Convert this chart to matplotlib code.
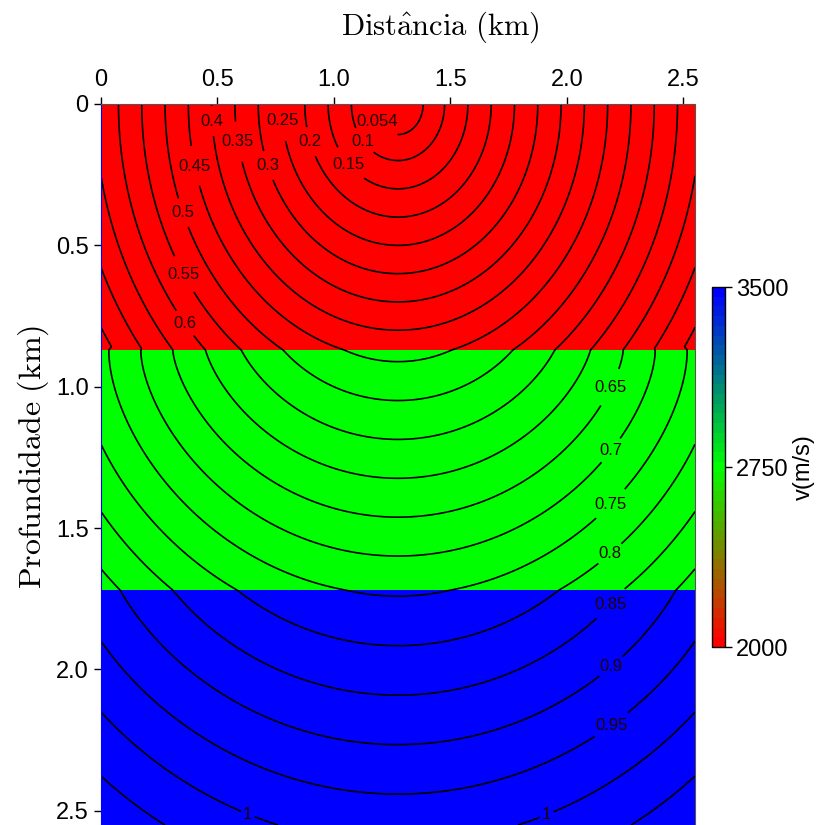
import numpy as np
import matplotlib
matplotlib.use("Agg")
from matplotlib import pyplot as plt
from matplotlib.colors import LinearSegmentedColormap

plt.rcParams['mathtext.fontset'] = 'cm'
tick_font = ['Liberation Sans Narrow', 'Liberation Sans', 'DejaVu Sans']

# camadas do modelo (km, km/s)
layer_tops = [0.0, 0.87, 1.72]
layer_vel = [2.0, 2.75, 3.5]
src_x = 1.275
model_size = 2.55

# niveis das isocronas (s)
levels = [0.054, 0.1, 0.15, 0.2, 0.25, 0.3, 0.35, 0.4, 0.45, 0.5, 0.55, 0.6,
          0.65, 0.7, 0.75, 0.8, 0.85, 0.9, 0.95, 1.0, 1.05, 1.1, 1.15, 1.2]

# onde ficam os rotulos das curvas (x, z)
label_pos = [(1.186, 0.06), (1.121, 0.134), (1.057, 0.219), (0.898, 0.134),
             (0.777, 0.06), (0.713, 0.219), (0.584, 0.134), (0.481, 0.06),
             (0.404, 0.219), (0.352, 0.385), (0.352, 0.604), (0.352, 0.78),
             (2.195, 1.006), (2.195, 1.229), (2.195, 1.42), (2.195, 1.6),
             (2.195, 1.773), (2.195, 1.995), (2.195, 2.2),
             (0.627, 2.518), (1.916, 2.518)]

vel_ticks = [2000, 2750, 3500]
xticks = [0, 0.5, 1.0, 1.5, 2.0, 2.5]
xtick_labels = ['0', '0.5', '1.0', '1.5', '2.0', '2.5']


def first_arrival(X, Z):
    v = np.array(layer_vel)
    tops = list(layer_tops)
    bots = tops[1:] + [np.inf]
    h = [b - t for t, b in zip(tops, bots)]
    n = len(v)
    T = np.full(X.shape, np.inf)
    for k in range(n):
        m = (Z >= tops[k]) & (Z < bots[k])
        xk = X[m]
        zk = Z[m]
        # onda direta (Snell)
        d = [np.full(xk.shape, h[i]) for i in range(k)] + [zk - tops[k]]
        if k == 0:
            t = np.hypot(xk, zk) / v[0]
        else:
            lo = np.zeros(xk.shape)
            hi = np.full(xk.shape, (1 - 1e-12) / v[:k + 1].max())
            for _ in range(70):
                p = 0.5 * (lo + hi)
                off = sum(d[i] * p * v[i] / np.sqrt(1 - (p * v[i]) ** 2)
                          for i in range(k + 1))
                big = off > xk
                hi = np.where(big, p, hi)
                lo = np.where(big, lo, p)
            p = 0.5 * (lo + hi)
            t = p * xk + sum(d[i] * np.sqrt(np.maximum(1 / v[i] ** 2 - p ** 2, 0))
                             for i in range(k + 1))
        # ondas refratadas criticamente (head waves)
        for j in range(k, n - 1):
            p = 1 / v[j + 1]
            dd = [np.full(xk.shape, h[i]) for i in range(k)]
            dd.append(h[k] + (bots[k] - zk))
            dd += [np.full(xk.shape, 2 * h[i]) for i in range(k + 1, j + 1)]
            need = sum(dd[i] * p * v[i] / np.sqrt(1 - (p * v[i]) ** 2)
                       for i in range(len(dd)))
            th = p * xk + sum(dd[i] * np.sqrt(1 / v[i] ** 2 - p ** 2)
                              for i in range(len(dd)))
            t = np.where(xk >= need, np.minimum(t, th), t)
        T[m] = t
    return T


x = np.linspace(0, model_size, 512)
z = np.linspace(0, model_size, 512)
XX, ZZ = np.meshgrid(x, z)
tt = first_arrival(np.abs(XX - src_x), ZZ)

vel = np.full(ZZ.shape, vel_ticks[0], dtype=float)
vel[ZZ >= layer_tops[1]] = layer_vel[1] * 1000
vel[ZZ >= layer_tops[2]] = layer_vel[2] * 1000

cmap = LinearSegmentedColormap.from_list('rgb', ['#ff0000', '#00ff00', '#0000ff'], N=37)

fig = plt.figure(figsize=(8.18, 8.25), dpi=100)
ax = fig.add_axes([101 / 818, 0, 594 / 818, 1 - 104 / 825])
cax = fig.add_axes([712 / 818, 1 - 647 / 825, 13 / 818, 360 / 825])

im = ax.imshow(vel, extent=[0, model_size, model_size, 0], aspect='auto',
               interpolation='nearest', cmap=cmap, vmin=2000, vmax=3500)
cs = ax.contour(x, z, tt, levels=levels, colors='k', linewidths=1.2)
lbls = ax.clabel(cs, manual=label_pos, inline=True, inline_spacing=2,
                 fmt='%g', fontsize=12)
for t in lbls:
    t.set_rotation(0)
    t.set_family(['Liberation Sans', 'DejaVu Sans'])
    t.set_color('#200000')

ax.set_xlim(0, model_size)
ax.set_ylim(model_size, 0)
ax.xaxis.tick_top()
ax.set_xticks(xticks)
ax.set_xticklabels(xtick_labels)
ax.set_yticks(xticks)
ax.set_yticklabels(xtick_labels)
ax.tick_params(direction='out', length=5, width=1, labelsize=17, pad=4)
for lab in ax.get_xticklabels() + ax.get_yticklabels():
    lab.set_family(tick_font)
ax.spines['left'].set_color('#0000ff')
for s in ['top', 'right', 'bottom']:
    ax.spines[s].set_color('#555555')

cb = fig.colorbar(im, cax=cax, ticks=vel_ticks)
cb.ax.tick_params(direction='out', length=5, width=1, labelsize=17, pad=3)
for lab in cb.ax.get_yticklabels():
    lab.set_family(tick_font)
cb.outline.set_linewidth(1)

fig.text(440 / 818, 1 - 27 / 825, r'$\mathrm{Dist\hat{a}ncia\ (km)}$',
         fontsize=22, ha='center', va='center')
fig.text(33 / 818, 1 - 457 / 825, r'$\mathrm{Profundidade\ (km)}$',
         fontsize=23, ha='center', va='center', rotation=90)
fig.text(804 / 818, 1 - 467 / 825, 'v(m/s)', fontsize=17, ha='center',
         va='center', rotation=90, family=['Liberation Sans', 'DejaVu Sans'])

fig.savefig('out.png', dpi=100)
